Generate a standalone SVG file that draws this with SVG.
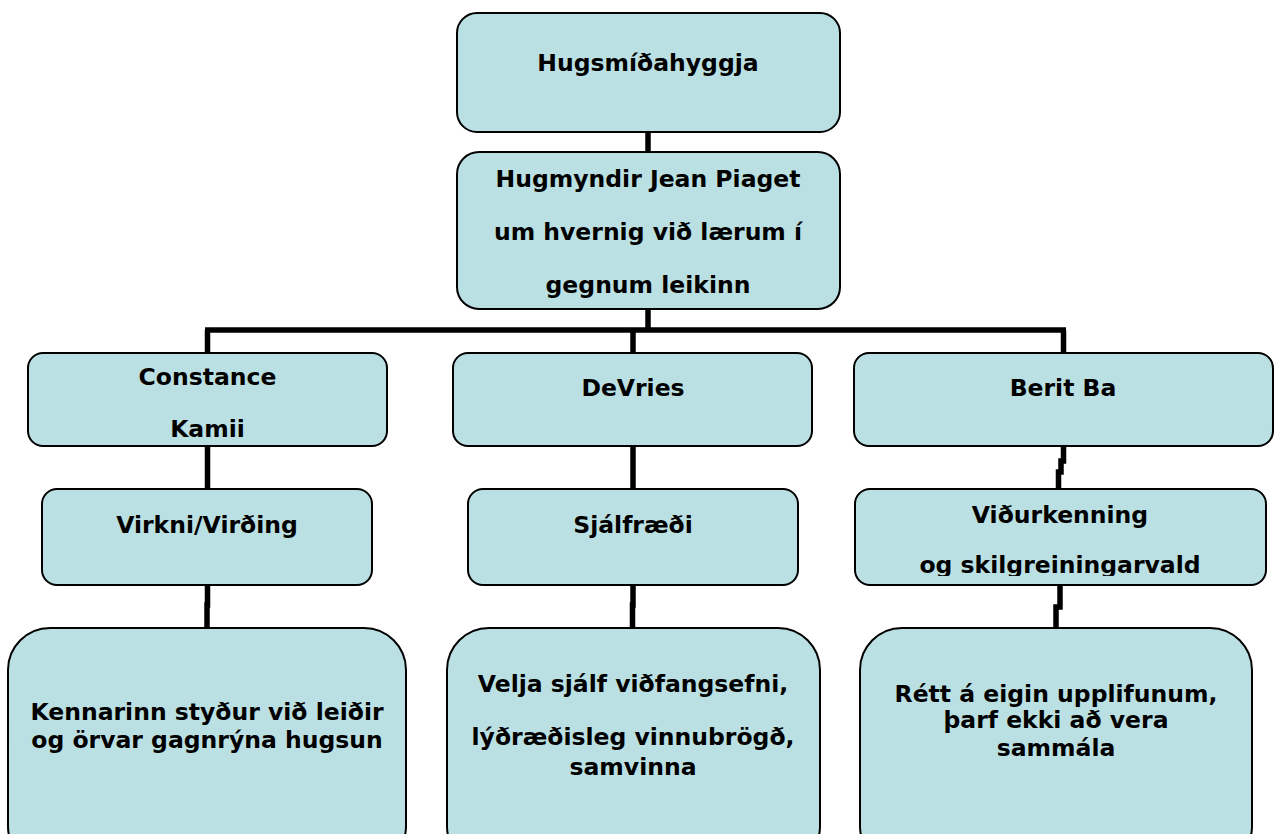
<svg xmlns="http://www.w3.org/2000/svg" width="1274" height="834" viewBox="0 0 1274 834">
<defs>
<style>
.box{fill:#bbe0e3;stroke:#000;stroke-width:2}
.t{font-family:"DejaVu Sans","Verdana",sans-serif;font-weight:bold;font-size:23.5px;fill:#000;text-anchor:middle}
.c{fill:none;stroke:#000;stroke-width:5.5}
</style>
<clipPath id="clipV"><rect x="855" y="489" width="411" height="87"/></clipPath>
</defs>
<rect width="1274" height="834" fill="#fff"/>
<g id="connectors">
<path class="c" d="M648 132V152"/>
<path class="c" d="M648 309V330"/>
<path class="c" d="M205 330H1066"/>
<path class="c" d="M207.5 330V353"/>
<path class="c" d="M633 330V353"/>
<path class="c" d="M1063.5 330V353"/>
<path class="c" d="M207.5 446V489"/>
<path class="c" d="M633 446V489"/>
<path class="c" d="M1063.5 446V461H1061V472H1058.5V489"/>
<path class="c" d="M207.5 585V605H207V628"/>
<path class="c" d="M633 585V605H632.5V628"/>
<path class="c" d="M1060 585V607H1056V628"/>
</g>
<g id="n1"><rect class="box" x="457" y="13" width="383" height="119" rx="20"/><text class="t" x="648" y="71">Hugsmíðahyggja</text></g>
<g id="n2"><rect class="box" x="457" y="152" width="383" height="157" rx="22"/>
<text class="t" x="648" y="187">Hugmyndir Jean Piaget</text>
<text class="t" x="648" y="240">um hvernig við lærum í</text>
<text class="t" x="648" y="293">gegnum leikinn</text></g>
<g id="n3"><rect class="box" x="28" y="353" width="359" height="93" rx="15"/>
<text class="t" x="207.5" y="385">Constance</text>
<text class="t" x="207.5" y="437">Kamii</text></g>
<g id="n4"><rect class="box" x="453" y="353" width="359" height="93" rx="15"/>
<text class="t" x="633" y="396">DeVries</text></g>
<g id="n5"><rect class="box" x="854" y="353" width="419" height="93" rx="15"/>
<text class="t" x="1063" y="396">Berit Ba</text></g>
<g id="n6"><rect class="box" x="42" y="489" width="330" height="96" rx="15"/>
<text class="t" x="207" y="533">Virkni/Virðing</text></g>
<g id="n7"><rect class="box" x="468" y="489" width="330" height="96" rx="15"/>
<text class="t" x="633" y="533">Sjálfræði</text></g>
<g id="n8"><rect class="box" x="855" y="489" width="411" height="96" rx="15"/>
<g clip-path="url(#clipV)">
<text class="t" x="1060" y="523">Viðurkenning</text>
<text class="t" x="1060" y="573">og skilgreiningarvald</text></g></g>
<g id="n9"><rect class="box" x="8" y="628" width="398" height="240" rx="42"/>
<text class="t" x="207" y="720">Kennarinn styður við leiðir</text>
<text class="t" x="207" y="748">og örvar gagnrýna hugsun</text></g>
<g id="n10"><rect class="box" x="447" y="628" width="373" height="240" rx="42"/>
<text class="t" x="633" y="692">Velja sjálf viðfangsefni,</text>
<text class="t" x="633" y="745">lýðræðisleg vinnubrögð,</text>
<text class="t" x="633" y="775">samvinna</text></g>
<g id="n11"><rect class="box" x="860" y="628" width="392" height="240" rx="42"/>
<text class="t" x="1056" y="702">Rétt á eigin upplifunum,</text>
<text class="t" x="1056" y="728">þarf ekki að vera</text>
<text class="t" x="1056" y="756">sammála</text></g>
</svg>
